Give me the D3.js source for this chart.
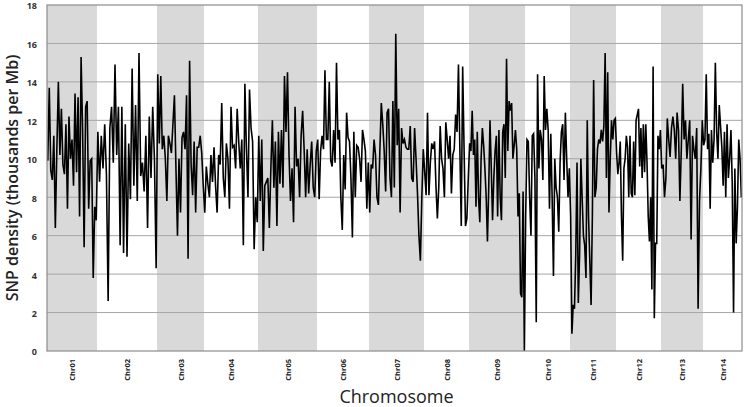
<!DOCTYPE html>
<html lang="en">
<head>
  <meta charset="UTF-8">
  <title>SNP density</title>
  <script src="https://d3js.org/d3.v7.min.js"></script>
  <style>
    body { margin: 0; background: #fff; }
    .tick-y { font-family: "Open Sans", sans-serif; font-size: 9px; font-weight: bold; fill: #333; }
    .chr-label { font-family: "Open Sans", sans-serif; font-weight: bold; fill: #222; }
    .title { font-family: "Open Sans", sans-serif; fill: #222; }
  </style>
</head>
<body>
  <svg width="744" height="407"></svg>
  <script>
    // chromosome names and (approximate) lengths, Mb
    const chromosomes = ["Chr01", "Chr02", "Chr03", "Chr04", "Chr05", "Chr06", "Chr07",
                         "Chr08", "Chr09", "Chr10", "Chr11", "Chr12", "Chr13", "Chr14"];
    const chrLengths = [50, 60, 47, 54, 59, 52, 55, 45, 56, 45, 46, 45, 42, 39];

    // SNP density per bin (thousands per Mb), one array per chromosome
    const chr01 = [9.9, 13.7, 9.4, 8.9, 11.2, 6.4, 10.5, 14.0, 10.2, 12.6, 9.7, 9.2, 11.8, 7.4, 12.2, 10.0, 11.0, 8.6, 13.4, 9.3, 13.2, 7.0, 15.3, 11.5, 5.4, 12.7, 13.0, 7.4, 9.9, 10.0, 3.8, 7.5, 6.8];
    const chr02 = [11.4, 8.8, 11.2, 9.5, 11.8, 9.2, 2.6, 11.6, 12.7, 9.8, 14.9, 10.2, 12.7, 5.5, 12.7, 5.1, 11.8, 4.9, 10.8, 7.9, 14.7, 8.6, 12.8, 7.8, 15.5, 9.1, 9.8, 8.3, 11.2, 6.4, 12.2, 9.0, 12.7, 10.0, 4.3];
    const chr03 = [14.4, 10.8, 14.3, 10.5, 11.2, 10.0, 7.8, 11.2, 10.8, 10.3, 11.8, 13.3, 9.5, 6.0, 10.0, 7.2, 11.1, 11.4, 10.5, 13.3, 4.8, 15.1, 9.7, 8.1, 10.9, 7.2, 10.6, 10.6, 11.2, 10.3, 8.6];
    const chr04 = [7.2, 9.6, 8.7, 8.0, 10.2, 8.8, 10.6, 8.6, 7.2, 10.2, 9.7, 12.9, 9.0, 8.0, 10.8, 10.0, 7.4, 12.7, 10.6, 10.7, 9.5, 12.6, 10.9, 9.5, 11.0, 5.5, 13.9, 10.5, 8.0, 13.6, 11.6, 10.9, 5.3, 8.0, 6.7];
    const chr05 = [11.2, 7.8, 11.0, 5.2, 8.6, 8.8, 9.0, 6.4, 9.5, 12.0, 8.5, 10.9, 6.5, 11.4, 8.7, 11.5, 8.5, 14.3, 11.4, 14.5, 10.2, 7.8, 9.5, 6.7, 12.7, 9.6, 10.0, 8.0, 11.2, 12.5, 10.5, 8.0, 10.5, 8.2, 9.7, 10.9, 8.5, 8.0, 10.4];
    const chr06 = [11.0, 7.9, 10.4, 11.2, 10.5, 14.6, 11.0, 11.0, 14.0, 9.9, 9.6, 11.5, 9.8, 15.0, 11.0, 11.5, 8.0, 6.3, 10.2, 8.4, 12.4, 11.1, 10.9, 9.0, 5.9, 11.4, 8.0, 10.7, 10.6, 10.0, 8.8, 11.5, 11.0, 10.4, 7.4, 9.8];
    const chr07 = [7.2, 9.7, 9.5, 11.0, 10.2, 8.0, 7.6, 10.4, 12.9, 11.8, 10.4, 8.3, 12.4, 12.6, 9.0, 8.0, 13.0, 8.5, 16.5, 10.7, 12.6, 7.2, 11.6, 10.8, 11.0, 10.6, 10.5, 10.5, 11.7, 9.0, 8.8, 11.6, 10.0, 8.2, 6.0, 4.7, 8.0, 10.5];
    const chr08 = [9.3, 8.1, 12.4, 8.1, 9.8, 10.8, 10.5, 10.9, 8.6, 6.9, 8.5, 11.7, 10.0, 9.5, 8.0, 11.9, 11.0, 10.0, 11.2, 8.2, 10.2, 10.5, 12.3, 11.4, 14.9, 10.5, 6.5, 14.8, 10.5, 6.5, 6.9, 9.0];
    const chr09 = [10.8, 10.4, 12.5, 10.2, 11.0, 7.5, 11.4, 8.0, 6.7, 10.0, 11.6, 10.7, 9.5, 8.0, 5.7, 8.5, 12.0, 9.5, 6.8, 9.0, 10.4, 11.2, 7.0, 11.5, 8.0, 6.8, 11.4, 11.8, 9.0, 15.2, 10.4, 13.0, 12.5, 12.9, 10.0, 10.7, 11.5, 10.5, 7.0, 8.2, 3.0, 2.8, 8.3, 0.0];
    const chr10 = [7.0, 11.0, 10.9, 8.0, 6.0, 11.2, 11.3, 9.0, 1.5, 14.4, 9.5, 11.5, 11.0, 8.9, 14.3, 11.5, 12.6, 11.5, 7.4, 11.3, 8.0, 3.9, 10.0, 8.5, 8.0, 6.2, 9.8, 11.4, 11.8, 8.9, 12.4, 10.0, 8.0, 9.5];
    const chr11 = [7.0, 0.9, 2.4, 2.2, 5.0, 9.8, 2.5, 5.0, 10.0, 8.0, 6.0, 5.5, 3.8, 12.0, 7.0, 4.7, 2.4, 7.0, 14.1, 8.0, 8.5, 10.5, 11.0, 10.8, 11.5, 10.9, 11.7, 15.5, 9.0, 14.5, 7.2, 10.0, 12.0, 11.0, 12.0, 12.1];
    const chr12 = [10.3, 9.2, 9.8, 10.9, 7.0, 4.7, 9.5, 10.0, 11.2, 10.6, 8.0, 11.2, 8.2, 8.0, 10.9, 8.1, 12.0, 12.3, 12.6, 9.6, 11.6, 9.0, 11.8, 9.3, 11.8, 9.8, 7.0, 5.7, 8.0, 3.2, 14.8, 1.7, 5.6, 5.6, 11.2, 10.5, 11.5];
    const chr13 = [9.5, 9.7, 8.0, 9.0, 12.1, 11.0, 10.1, 11.6, 12.2, 11.5, 10.0, 12.4, 11.5, 7.8, 10.5, 13.9, 11.0, 12.0, 10.0, 11.0, 12.0, 5.8, 11.2, 10.5, 10.0, 11.6, 2.2, 7.8, 9.5, 12.0];
    const chr14 = [10.7, 11.0, 14.4, 10.5, 11.3, 7.4, 11.5, 9.8, 11.0, 15.0, 11.4, 10.0, 12.8, 11.7, 10.6, 8.6, 11.4, 8.0, 11.8, 9.0, 10.0, 11.5, 8.7, 2.0, 9.5, 5.6, 7.5, 11.0, 10.0, 8.0];
    const densities = [chr01, chr02, chr03, chr04, chr05, chr06, chr07, chr08, chr09, chr10, chr11, chr12, chr13, chr14];

    const yTicks = [0, 2, 4, 6, 8, 10, 12, 14, 16, 18];

    const margin = { top: 5, right: 2, bottom: 56, left: 47 };
    const width = 744 - margin.left - margin.right;
    const height = 407 - margin.top - margin.bottom;

    const svg = d3.select("svg")
      .append("g")
      .attr("transform", `translate(${margin.left}, ${margin.top})`);

    // cumulative chromosome starts
    const starts = [];
    let acc = 0;
    chrLengths.forEach(l => { starts.push(acc); acc += l; });

    const x = d3.scaleLinear().domain([0, acc]).range([0, width]);
    const y = d3.scaleLinear().domain([0, 18]).range([height, 0]);

    // alternating chromosome bands
    svg.selectAll(".band")
      .data(chromosomes)
      .enter().append("rect")
      .attr("class", "band")
      .attr("x", (d, i) => x(starts[i]))
      .attr("y", 0)
      .attr("width", (d, i) => x(starts[i] + chrLengths[i]) - x(starts[i]))
      .attr("height", height)
      .attr("fill", (d, i) => i % 2 === 0 ? "#d9d9d9" : "#ffffff");

    // gridlines
    svg.selectAll(".grid")
      .data(yTicks.filter(t => t > 0 && t < 18))
      .enter().append("line")
      .attr("x1", 0).attr("x2", width)
      .attr("y1", d => y(d)).attr("y2", d => y(d))
      .attr("stroke", "#a6a6a6")
      .attr("stroke-width", 1);

    // line
    const points = [];
    densities.forEach((vals, c) => {
      vals.forEach((v, i) => {
        points.push({ pos: starts[c] + (i + 0.5) * chrLengths[c] / vals.length, v: v });
      });
    });

    svg.append("path")
      .datum(points)
      .attr("fill", "none")
      .attr("stroke", "#000")
      .attr("stroke-width", 1.6)
      .attr("d", d3.line().x(d => x(d.pos)).y(d => y(d.v)));

    // frame
    svg.append("rect")
      .attr("x", 0).attr("y", 0)
      .attr("width", width).attr("height", height)
      .attr("fill", "none")
      .attr("stroke", "#8c8c8c")
      .attr("stroke-width", 1.2);

    // y axis
    const yAxis = svg.append("g")
      .attr("transform", "translate(0, 1)")
      .call(d3.axisLeft(y).tickValues(yTicks).tickSize(0).tickPadding(10));
    yAxis.select(".domain").remove();
    yAxis.selectAll("text").attr("class", "tick-y").attr("font-family", null).attr("font-size", null);

    // chromosome labels, rotated, at chromosome centres
    const labels = svg.selectAll(".chr-g")
      .data(chromosomes)
      .enter().append("g")
      .attr("class", "chr-g")
      .attr("transform", (d, i) =>
        `translate(${x(starts[i] + chrLengths[i] / 2) + 3}, ${height + 8}) rotate(-90)`);
    labels.append("text")
      .attr("class", "chr-label")
      .attr("font-size", 7.5)
      .attr("text-anchor", "end")
      .text(d => d);

    // titles
    svg.append("text")
      .attr("class", "title")
      .attr("x", width / 2 + 2)
      .attr("y", height + 52)
      .attr("text-anchor", "middle")
      .attr("font-size", 18)
      .text("Chromosome");

    svg.append("text")
      .attr("class", "title")
      .attr("transform", `translate(${-29}, ${height / 2}) rotate(-90)`)
      .attr("text-anchor", "middle")
      .attr("font-size", 16)
      .attr("font-weight", 600)
      .text("SNP density (thousands per Mb)");
  </script>
</body>
</html>
